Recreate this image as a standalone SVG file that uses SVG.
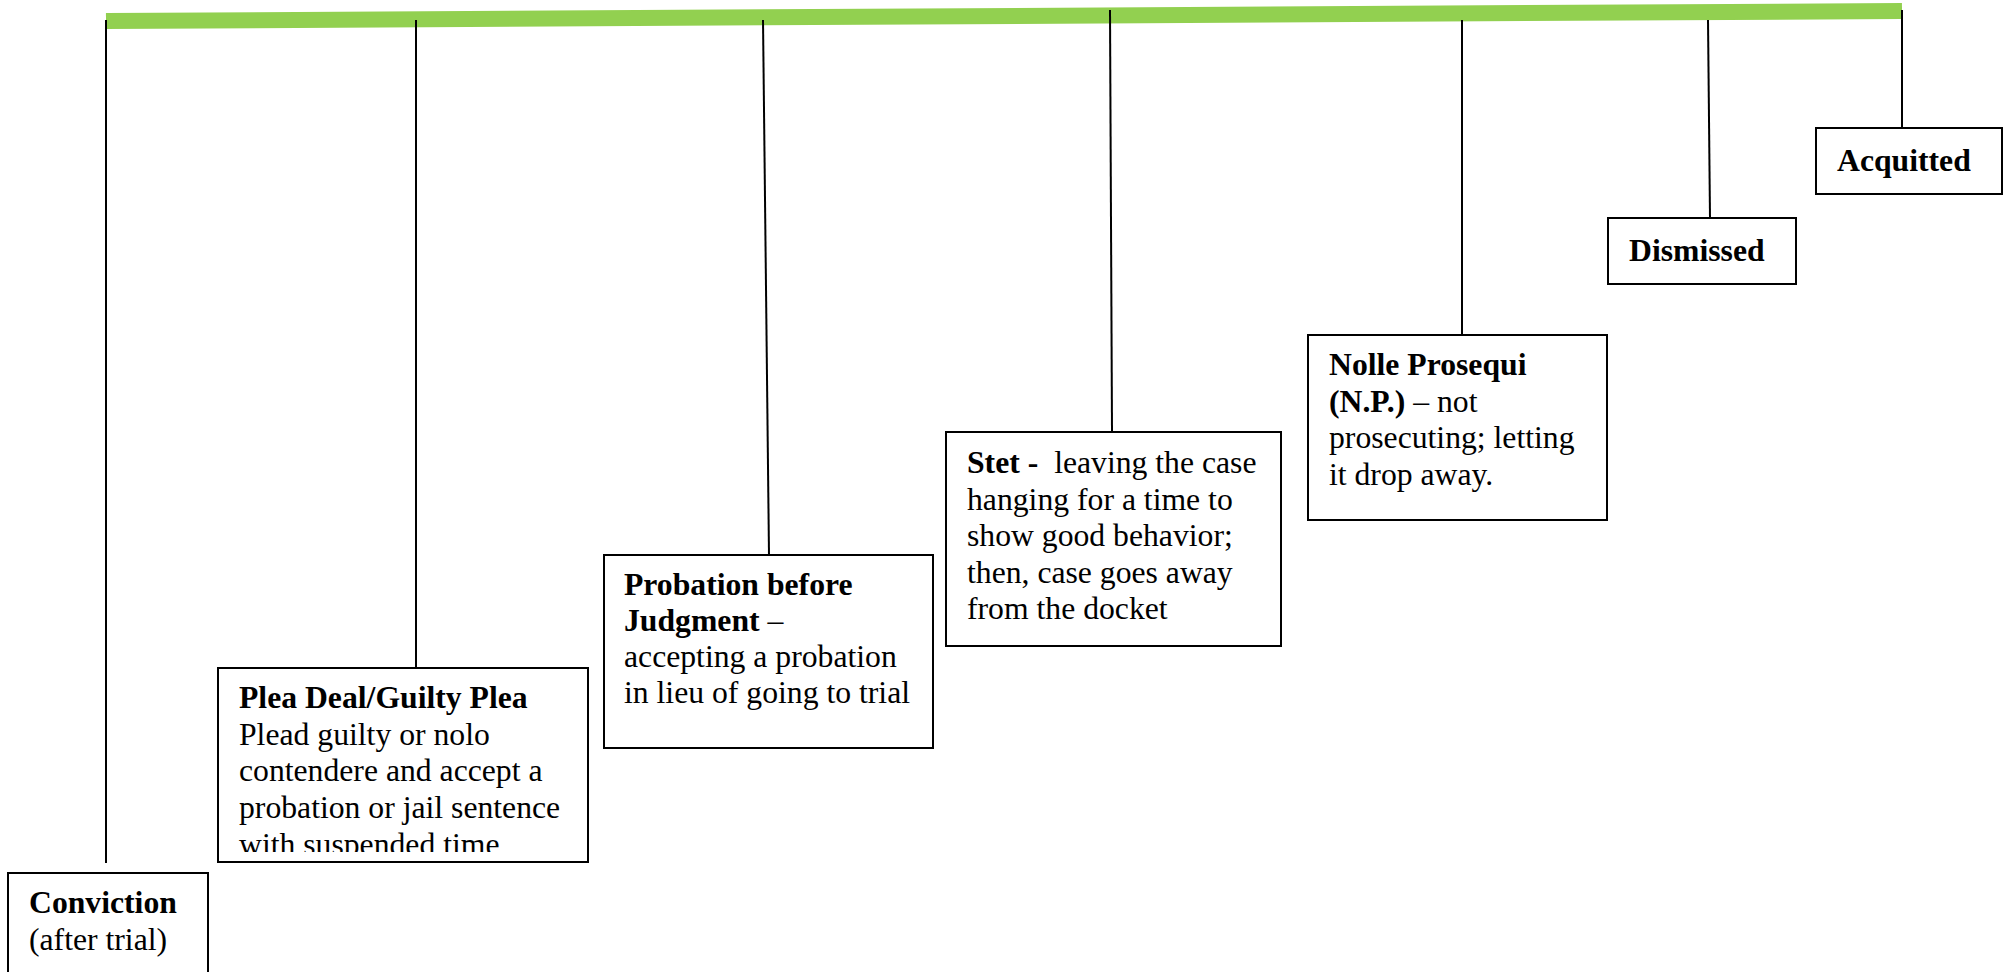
<svg xmlns="http://www.w3.org/2000/svg" width="2007" height="972" viewBox="0 0 2007 972">
<style>
.box{fill:#fff;stroke:#000;stroke-width:2}
.conn{stroke:#000;stroke-width:2;fill:none}
text{font-family:"Liberation Serif","Times New Roman",serif;font-size:31.7px;fill:#000}
.b{font-weight:bold}
</style>
<defs>
<clipPath id="pleaClip"><rect x="218" y="669" width="370" height="183"/></clipPath>
</defs>
<rect width="2007" height="972" fill="#fff"/>
<g id="timeline">
<line x1="106" y1="21" x2="1902" y2="11" stroke="#92D050" stroke-width="16"/>
</g>
<g id="connectors">
<line class="conn" x1="106" y1="20" x2="106" y2="863"/>
<line class="conn" x1="416" y1="20" x2="416" y2="668"/>
<line class="conn" x1="763" y1="20" x2="769" y2="555"/>
<line class="conn" x1="1110" y1="10" x2="1112" y2="432"/>
<line class="conn" x1="1462" y1="20" x2="1462" y2="335"/>
<line class="conn" x1="1708" y1="20" x2="1710" y2="218"/>
<line class="conn" x1="1902" y1="10" x2="1902" y2="128"/>
</g>
<g id="conviction">
<rect class="box" x="8" y="873" width="200" height="120"/>
<text x="29" y="913" class="b">Conviction</text>
<text x="29" y="950">(after trial)</text>
</g>
<g id="plea">
<rect class="box" x="218" y="668" width="370" height="194"/>
<g clip-path="url(#pleaClip)">
<text x="239" y="708" class="b">Plea Deal/Guilty Plea</text>
<text x="239" y="744.5">Plead guilty or nolo</text>
<text x="239" y="781">contendere and accept a</text>
<text x="239" y="817.5">probation or jail sentence</text>
<text x="239" y="855">with suspended time</text>
</g>
</g>
<g id="probation">
<rect class="box" x="604" y="555" width="329" height="193"/>
<text x="624" y="595" class="b">Probation before</text>
<text x="624" y="631"><tspan class="b">Judgment</tspan> –</text>
<text x="624" y="667">accepting a probation</text>
<text x="624" y="703">in lieu of going to trial</text>
</g>
<g id="stet">
<rect class="box" x="946" y="432" width="335" height="214"/>
<text x="967" y="473" xml:space="preserve"><tspan class="b">Stet -</tspan>  leaving the case</text>
<text x="967" y="509.5">hanging for a time to</text>
<text x="967" y="546">show good behavior;</text>
<text x="967" y="582.5">then, case goes away</text>
<text x="967" y="619">from the docket</text>
</g>
<g id="nolle">
<rect class="box" x="1308" y="335" width="299" height="185"/>
<text x="1329" y="375" class="b">Nolle Prosequi</text>
<text x="1329" y="411.5"><tspan class="b">(N.P.)</tspan> – not</text>
<text x="1329" y="448">prosecuting; letting</text>
<text x="1329" y="484.5">it drop away.</text>
</g>
<g id="dismissed">
<rect class="box" x="1608" y="218" width="188" height="66"/>
<text x="1629" y="261" class="b">Dismissed</text>
</g>
<g id="acquitted">
<rect class="box" x="1816" y="128" width="186" height="66"/>
<text x="1837" y="171" class="b">Acquitted</text>
</g>
</svg>
